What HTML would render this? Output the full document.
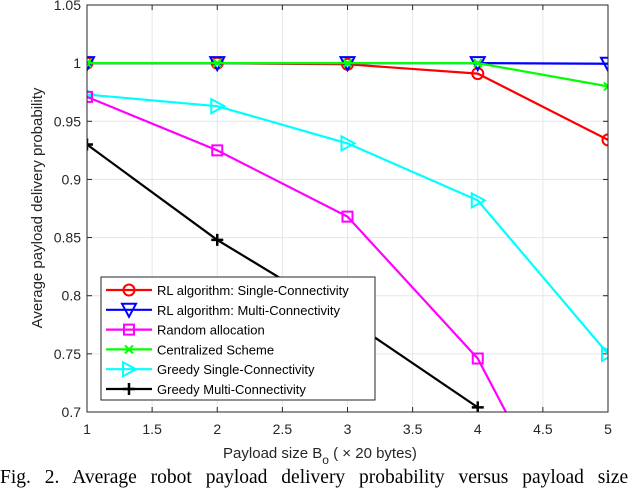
<!DOCTYPE html>
<html><head><meta charset="utf-8"><style>
html,body{margin:0;background:#fff;width:640px;height:496px;overflow:hidden}
svg{display:block}
svg text{font-family:"Liberation Sans",sans-serif}
</style></head><body>
<svg id="c" width="640" height="496"></svg>
<script>
const xs=[1,2,3,4,5];
const rlSingle=[1,1,0.999,0.991,0.934];
const rlMulti=[1,1,1,1,0.9995];
const randomAlloc=[0.971,0.925,0.868,0.746,0.533];
const centralized=[1,1,1,1,0.98];
const greedySingle=[0.973,0.963,0.931,0.882,0.75];
const greedyMulti=[0.930,0.848,0.78,0.704];
const xTicks=[1,1.5,2,2.5,3,3.5,4,4.5,5];
const yTicks=[0.7,0.75,0.8,0.85,0.9,0.95,1,1.05];
const L=87,R=608,T=5,B=412;
const X=v=>L+(v-1)/4*(R-L), Y=v=>B-(v-0.7)/0.35*(B-T);
const NS="http://www.w3.org/2000/svg", svg=document.getElementById('c');
function mk(t,a,p){const e=document.createElementNS(NS,t);for(const k in a)e.setAttribute(k,a[k]);(p||svg).appendChild(e);return e;}
const defs=mk('defs',{});const cp=mk('clipPath',{id:'cp'},defs);mk('rect',{x:L,y:T,width:R-L,height:B-T},cp);
const grid=mk('g',{});
xTicks.forEach(v=>{mk('line',{x1:X(v),x2:X(v),y1:T,y2:B,stroke:'#e6e6e6'},grid);mk('line',{x1:X(v),x2:X(v),y1:B,y2:B-5,stroke:'#262626'},grid);mk('line',{x1:X(v),x2:X(v),y1:T,y2:T+5,stroke:'#262626'},grid);
const t=mk('text',{x:X(v),y:B+22,'text-anchor':'middle','font-size':14,fill:'#262626'});t.textContent=String(v);});
yTicks.forEach(v=>{mk('line',{x1:L,x2:R,y1:Y(v),y2:Y(v),stroke:'#e6e6e6'},grid);mk('line',{x1:L,x2:L+5,y1:Y(v),y2:Y(v),stroke:'#262626'},grid);mk('line',{x1:R,x2:R-5,y1:Y(v),y2:Y(v),stroke:'#262626'},grid);
const t=mk('text',{x:L-6,y:Y(v)+5,'text-anchor':'end','font-size':14,fill:'#262626'});t.textContent=String(v);});
function marker(g,type,x,y,c){
 if(type==='o')mk('circle',{cx:x,cy:y,r:5.5,fill:'none',stroke:c,'stroke-width':2},g);
 else if(type==='v')mk('path',{d:`M${x-7},${y-6}L${x+7},${y-6}L${x},${y+7}Z`,fill:'none',stroke:c,'stroke-width':2},g);
 else if(type==='s')mk('rect',{x:x-5,y:y-5,width:10,height:10,fill:'none',stroke:c,'stroke-width':2},g);
 else if(type==='x')mk('path',{d:`M${x-4},${y-4}L${x+4},${y+4}M${x-4},${y+4}L${x+4},${y-4}`,stroke:c,'stroke-width':2},g);
 else if(type==='>')mk('path',{d:`M${x-6},${y-7}L${x+7},${y}L${x-6},${y+7}Z`,fill:'none',stroke:c,'stroke-width':2},g);
 else if(type==='+')mk('path',{d:`M${x-6},${y}L${x+6},${y}M${x},${y-6}L${x},${y+6}`,stroke:c,'stroke-width':2.5},g);
}
const series=[
 {n:'greedy-multi',d:greedyMulti,c:'#000',m:'+',lab:'Greedy Multi-Connectivity'},
 {n:'greedy-single',d:greedySingle,c:'#00ffff',m:'>',lab:'Greedy Single-Connectivity'},
 {n:'random-allocation',d:randomAlloc,c:'#ff00ff',m:'s',lab:'Random allocation'},
 {n:'rl-single',d:rlSingle,c:'#ff0000',m:'o',lab:'RL algorithm: Single-Connectivity'},
 {n:'rl-multi',d:rlMulti,c:'#0000ff',m:'v',lab:'RL algorithm: Multi-Connectivity'},
 {n:'centralized',d:centralized,c:'#00ff00',m:'x',lab:'Centralized Scheme'}];
series.forEach(s=>{const g=mk('g',{'clip-path':'url(#cp)'});
 mk('polyline',{points:s.d.map((v,i)=>X(xs[i])+','+Y(v)).join(' '),fill:'none',stroke:s.c,'stroke-width':2.2},g);
 s.d.forEach((v,i)=>marker(g,s.m,X(xs[i]),Y(v),s.c));});
mk('rect',{x:L,y:T,width:R-L,height:B-T,fill:'none',stroke:'#262626'});
const lg=mk('g',{});
mk('rect',{x:101,y:277,width:274,height:123,fill:'#fff',stroke:'#262626'},lg);
const order=[3,4,2,5,1,0];
order.forEach((si,k)=>{const s=series[si],y=290+k*19.8;const e=mk('g',{},lg);
 mk('line',{x1:106,x2:152,y1:y,y2:y,stroke:s.c,'stroke-width':2.2},e);marker(e,s.m,129,y,s.c);
 const t=mk('text',{x:157,y:y+5,'font-size':13,fill:'#000'},e);t.textContent=s.lab;});
let t=mk('text',{x:320,y:458,'text-anchor':'middle','font-size':15,fill:'#262626'});
t.innerHTML='Payload size B<tspan dy="6" font-size="12">o</tspan><tspan dy="-6"> ( × 20 bytes)</tspan>';
t=mk('text',{x:0,y:0,transform:'translate(42,208) rotate(-90)','text-anchor':'middle','font-size':15,fill:'#262626'});t.textContent='Average payload delivery probability';
t=mk('text',{x:0,y:483,'font-size':19.5,fill:'#000',style:'font-family:"Liberation Serif",serif;word-spacing:9px'});t.textContent='Fig. 2.   Average robot payload delivery probability versus payload size';
</script>
</body></html>
